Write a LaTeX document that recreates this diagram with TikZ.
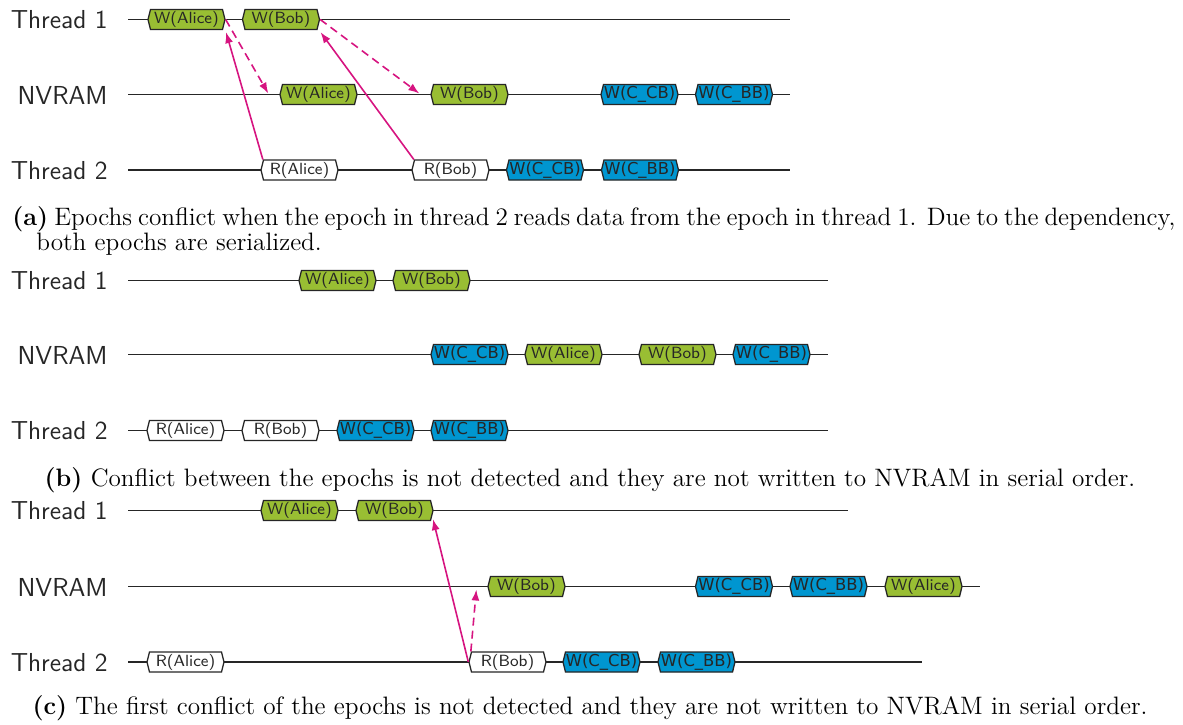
\documentclass[tikz,border=0pt]{standalone}
\usepackage{fontspec}
\newfontfamily\dejavu{DejaVu Sans}
\usetikzlibrary{shapes.symbols,arrows.meta,calc}

\definecolor{epgreen}{RGB}{153,190,51}
\definecolor{epblue}{RGB}{0,150,208}
\definecolor{depmag}{RGB}{214,20,128}

\tikzset{
  epoch/.style={shape=signal, signal to=east and west, signal pointer angle=152,
    draw=black!85, line width=0.65pt, minimum width=38.5pt, minimum height=10pt,
    inner sep=0pt, text=black!85, font=\sffamily\fontsize{8.1}{9}\selectfont},
  epw/.style={epoch, fill=epgreen},
  epr/.style={epoch, fill=white},
  epc/.style={epoch, fill=epblue, font=\dejavu\fontsize{8.2}{9}\selectfont},
  timeline/.style={draw=black!85, line width=0.8pt},
  lane/.style={anchor=east, inner sep=0pt, text=black!85, font=\sffamily\fontsize{13}{15}\selectfont},
  caption/.style={inner sep=0pt, font=\rmfamily\fontsize{12.6}{14}\selectfont},
  dep/.style={draw=depmag, line width=0.8pt, -{Latex[length=5.5pt,width=4pt]}},
  depdash/.style={dep, dash pattern=on 4pt off 2.5pt},
}

\begin{document}
\begin{tikzpicture}[x=0.5pt,y=-0.5pt]
\useasboundingbox (0,0) rectangle (1183,724);

% ---------------- (a) ----------------
\node[lane] (la1) at (108,19.5) {Thread 1};
\node[lane] (la2) at (108,95) {NVRAM};
\node[lane] (la3) at (108,170.5) {Thread 2};
\coordinate (a1s) at (128,19.5); \coordinate (a1e) at (790,19.5);
\coordinate (a2s) at (128,94.5); \coordinate (a2e) at (790,94.5);
\coordinate (a3s) at (128,170);  \coordinate (a3e) at (790,170);
\draw[timeline] (a1s) -- (a1e);
\draw[timeline] (a2s) -- (a2e);
\draw[timeline] (a3s) -- (a3e);

\node[epw] (t1a) at (186.5,19.5) {W(Alice)};
\node[epw] (t1b) at (281,19.5) {W(Bob)};
\node[epw] (nva) at (318.5,94.5) {W(Alice)};
\node[epw] (nvb) at (469.5,94.5) {W(Bob)};
\node[epc] (nvc) at (639.5,94.5) {W(C\_CB)};
\node[epc] (nvd) at (734,94.5) {W(C\_BB)};
\node[epr] (ra) at (299.5,170) {R(Alice)};
\node[epr] (rb) at (450.5,170) {R(Bob)};
\node[epc] (tc) at (545,170) {W(C\_CB)};
\node[epc] (td) at (640,170) {W(C\_BB)};

\draw[dep] (ra.north west) -- ($(t1a.south east)+(3,2)$);
\draw[dep] (rb.north west) -- ($(t1b.south east)+(3,2)$);
\draw[depdash] (t1a.east) -- ($(nva.west)+(-11,-1)$);
\draw[depdash] (t1b.east) -- ($(nvb.west)+(-11,-1)$);

\node[caption, anchor=base west] (capa1) at (12,225)
  {\makebox[581.5pt][s]{\textbf{(a)} Epochs conflict when the epoch in thread 2 reads data from the epoch in thread 1. Due to the dependency,}};
\node[caption, anchor=base west] (capa2) at (36,250) {both epochs are serialized.};

% ---------------- (b) ----------------
\node[lane] (lb1) at (108,281) {Thread 1};
\node[lane] (lb2) at (108,355) {NVRAM};
\node[lane] (lb3) at (108,431) {Thread 2};
\coordinate (b1s) at (128,280.5); \coordinate (b1e) at (828,280.5);
\coordinate (b2s) at (128,354.5); \coordinate (b2e) at (828,354.5);
\coordinate (b3s) at (128,430.5); \coordinate (b3e) at (828,430.5);
\draw[timeline] (b1s) -- (b1e);
\draw[timeline] (b2s) -- (b2e);
\draw[timeline] (b3s) -- (b3e);

\node[epw] (ba) at (337.5,280.5) {W(Alice)};
\node[epw] (bb) at (431.5,280.5) {W(Bob)};
\node[epc] (bnc) at (469.5,354.5) {W(C\_CB)};
\node[epw] (bna) at (563.5,354.5) {W(Alice)};
\node[epw] (bnb) at (677.5,354.5) {W(Bob)};
\node[epc] (bnd) at (771.5,354.5) {W(C\_BB)};
\node[epr] (bra) at (185.5,430.5) {R(Alice)};
\node[epr] (brb) at (280.5,430.5) {R(Bob)};
\node[epc] (btc) at (375.5,430.5) {W(C\_CB)};
\node[epc] (btd) at (469.5,430.5) {W(C\_BB)};

\node[caption, anchor=base] (capb) at (590,486)
  {\textbf{(b)} Conflict between the epochs is not detected and they are not written to NVRAM in serial order.};

% ---------------- (c) ----------------
\node[lane] (lc1) at (108,511) {Thread 1};
\node[lane] (lc2) at (108,587) {NVRAM};
\node[lane] (lc3) at (108,662.5) {Thread 2};
\coordinate (c1s) at (128,510.5); \coordinate (c1e) at (848,510.5);
\coordinate (c2s) at (128,586.5); \coordinate (c2e) at (980,586.5);
\coordinate (c3s) at (128,662);   \coordinate (c3e) at (922,662);
\draw[timeline] (c1s) -- (c1e);
\draw[timeline] (c2s) -- (c2e);
\draw[timeline] (c3s) -- (c3e);

\node[epw] (ca) at (299.5,510.5) {W(Alice)};
\node[epw] (cb) at (394.5,510.5) {W(Bob)};
\node[epw] (cnb) at (526.5,586.5) {W(Bob)};
\node[epc] (cnc) at (734,586.5) {W(C\_CB)};
\node[epc] (cnd) at (828.5,586.5) {W(C\_BB)};
\node[epw] (cna) at (923.5,586.5) {W(Alice)};
\node[epr] (cra) at (185.5,662) {R(Alice)};
\node[epr] (crb) at (507.5,662) {R(Bob)};
\node[epc] (ctc) at (601.5,662) {W(C\_CB)};
\node[epc] (ctd) at (696.5,662) {W(C\_BB)};

\draw[dep] (crb.west) -- ($(cb.south east)+(2,-2)$);
\draw[depdash] (crb.north west) -- ($(cnb.west)+(-11,3)$);

\node[caption, anchor=base] (capc) at (590,714)
  {\textbf{(c)} The first conflict of the epochs is not detected and they are not written to NVRAM in serial order.};
\end{tikzpicture}
\end{document}
